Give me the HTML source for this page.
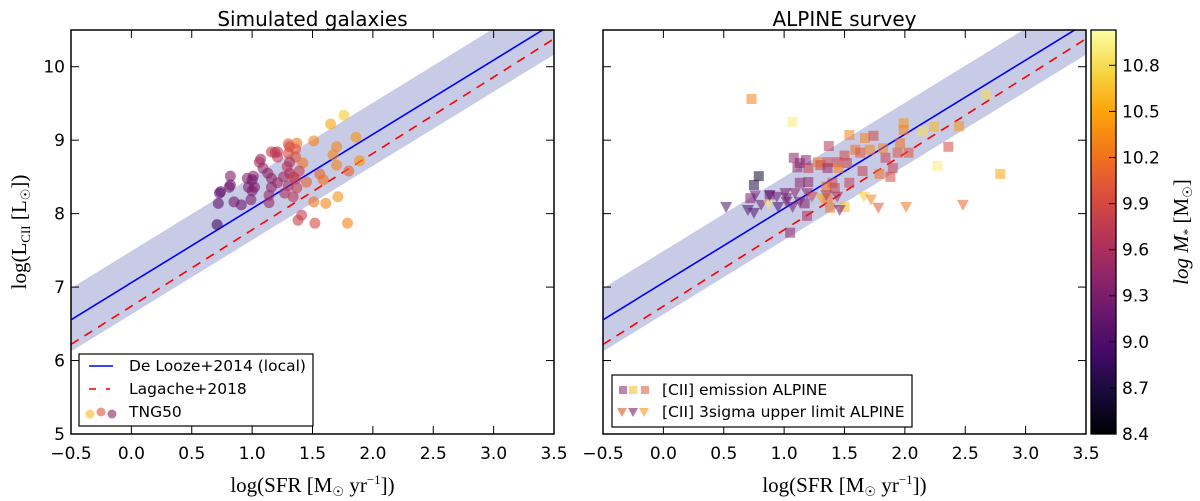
<!DOCTYPE html>
<html><head><meta charset="utf-8"><style>
html,body{margin:0;padding:0;background:#fff;}
svg{display:block;font-family:"DejaVu Sans","Liberation Sans",sans-serif;}
.tick{font-size:17px;fill:#000;}
.math{font-family:"Liberation Serif","DejaVu Serif",serif;font-size:21px;}
</style></head><body>
<svg id="fig" width="1200" height="501" viewBox="0 0 1200 501" xmlns="http://www.w3.org/2000/svg"></svg>
<script>
// ---- data ----
const xTicks = [-0.5,0.0,0.5,1.0,1.5,2.0,2.5,3.0,3.5];
const yTicks = [5,6,7,8,9,10];
const cbTicks = [8.4,8.7,9.0,9.3,9.6,9.9,10.2,10.5,10.8];
const deLooze = {slope:1.01, intercept:7.06, scatter:0.43};
const lagache = {slope:1.04, intercept:6.74};
const tngSfr = [1.76,1.65,1.86,1.51,1.70,1.30,1.37,1.31,1.36,1.16,1.21,1.19,1.21,1.30,1.36,1.07,1.06,1.67,1.42,1.70,1.89,1.80,1.09,1.29,1.31,1.13,1.31,1.39,0.82,0.96,1.01,1.00,1.16,1.26,1.34,1.36,1.45,1.56,1.59,0.82,0.81,0.74,0.73,0.97,1.02,1.00,1.16,1.21,1.30,1.37,1.27,1.14,1.34,0.72,0.85,0.91,0.99,1.14,1.51,1.61,1.71,1.41,1.38,1.52,1.79,0.71];
const tngL = [9.34,9.22,9.04,8.99,8.91,8.95,8.96,8.91,8.88,8.84,8.84,8.83,8.77,8.82,8.77,8.74,8.70,8.80,8.69,8.66,8.72,8.58,8.62,8.64,8.70,8.55,8.55,8.58,8.51,8.48,8.51,8.46,8.48,8.50,8.50,8.47,8.43,8.54,8.46,8.39,8.36,8.30,8.28,8.36,8.36,8.31,8.36,8.42,8.38,8.35,8.28,8.25,8.23,8.14,8.16,8.12,8.19,8.15,8.16,8.14,8.23,7.98,7.91,7.87,7.87,7.85];
const tngM = [10.7,10.5,10.4,10.3,10.3,10.0,10.2,9.9,10.0,9.8,9.8,9.7,9.7,9.9,10.0,9.5,9.6,10.3,10.2,10.3,10.4,10.1,9.4,9.7,9.6,9.4,9.6,9.8,9.3,9.3,9.4,9.2,9.4,9.5,9.7,9.8,10.1,10.1,10.2,9.2,9.2,9.1,9.1,9.3,9.3,9.3,9.4,9.5,9.6,9.8,9.6,9.5,9.7,9.1,9.2,9.2,9.3,9.5,10.2,10.3,10.4,9.8,9.8,9.9,10.3,8.9];
const alpSqSfr = [0.73,1.07,1.99,1.99,2.15,2.24,2.45,2.67,2.36,2.27,2.79,1.54,1.67,1.74,1.37,1.59,1.71,1.82,1.96,1.94,2.03,1.63,1.50,1.84,1.08,1.18,1.13,1.28,1.36,1.44,1.52,1.30,1.11,1.20,1.36,1.45,1.65,1.90,1.79,1.88,1.54,1.13,1.20,1.40,1.35,1.42,0.79,0.75,0.72,0.88,1.17,1.38,1.50,1.19,1.05,1.36];
const alpSqL = [9.56,9.25,9.23,9.14,9.12,9.18,9.19,9.63,8.91,8.65,8.54,9.07,9.03,9.06,8.92,8.87,8.87,8.89,8.96,8.83,8.83,8.83,8.79,8.76,8.76,8.73,8.69,8.70,8.70,8.70,8.69,8.66,8.63,8.62,8.62,8.62,8.58,8.62,8.54,8.50,8.42,8.42,8.43,8.42,8.37,8.35,8.51,8.39,8.21,8.25,8.14,8.08,8.09,7.97,7.74,8.21];
const alpSqM = [10.3,10.9,10.4,10.3,10.8,10.6,10.4,10.8,9.9,10.9,10.5,10.3,10.3,9.9,9.7,10.2,10.3,10.3,10.2,10.0,10.0,10.0,9.9,9.8,9.4,9.4,9.3,10.3,9.9,9.8,9.8,9.9,9.4,9.8,9.5,10.3,9.8,9.8,10.2,9.9,9.8,9.4,9.4,9.9,10.2,9.8,8.6,8.7,9.3,9.2,9.3,10.2,10.6,9.6,9.4,10.2];
const alpTrSfr = [0.52,0.70,0.75,0.76,0.81,0.87,0.88,0.94,0.95,1.01,1.02,1.07,1.09,1.13,1.19,1.23,1.31,1.35,1.44,1.46,1.66,1.72,1.78,2.01,2.48,1.02];
const alpTrL = [8.09,8.05,8.01,8.25,8.12,8.13,8.25,8.23,8.09,8.28,8.21,8.09,8.28,8.16,8.28,8.23,8.21,8.25,8.23,8.05,8.23,8.19,8.08,8.09,8.12,8.16];
const alpTrM = [9.0,9.0,9.0,9.1,9.2,10.9,9.1,9.2,9.0,9.2,9.3,9.2,9.4,9.3,9.4,9.8,10.5,9.7,9.5,9.2,10.7,10.3,10.0,10.2,10.1,9.2];

// ---- helpers ----
const NS='http://www.w3.org/2000/svg';
const svg=document.getElementById('fig');
function mk(tag,attrs,parent,text){const e=document.createElementNS(NS,tag);for(const k in attrs)e.setAttribute(k,attrs[k]);if(text!==undefined)e.textContent=text;(parent||svg).appendChild(e);return e;}
const X0=-0.5,X1=3.5,Y0=5,Y1=10.5,TOP=30,BOT=434,W=483;
const CMIN=8.4,CMAX=11.03;
const stops=[[0,[0,0,4]],[0.1,[22,11,57]],[0.2,[66,10,104]],[0.3,[106,23,110]],[0.4,[147,38,103]],[0.5,[188,55,84]],[0.6,[221,81,58]],[0.7,[243,120,25]],[0.8,[252,165,10]],[0.9,[246,215,70]],[1,[252,255,164]]];
function cmap(v){let t=Math.max(0,Math.min(1,(v-CMIN)/(CMAX-CMIN)));for(let i=1;i<stops.length;i++){if(t<=stops[i][0]){const a=stops[i-1],b=stops[i],f=(t-a[0])/(b[0]-a[0]);const c=a[1].map((x,j)=>Math.round(x+(b[1][j]-x)*f));return `rgb(${c[0]},${c[1]},${c[2]})`;}}return 'rgb(252,255,164)';}
function yS(v){return BOT-(v-Y0)/(Y1-Y0)*(BOT-TOP);}

function panel(L,name,title){
  const xS=v=>L+(v-X0)/(X1-X0)*W;
  const g=mk('g',{});
  
  
  const cid='clip-'+name;
  const cp=mk('clipPath',{id:cid},g);mk('rect',{x:L,y:TOP,width:W,height:BOT-TOP},cp);
  const plot=mk('g',{'clip-path':`url(#${cid})`},g);
  const pts=[[xS(X0),yS(deLooze.slope*X0+deLooze.intercept+deLooze.scatter)],[xS(X1),yS(deLooze.slope*X1+deLooze.intercept+deLooze.scatter)],[xS(X1),yS(deLooze.slope*X1+deLooze.intercept-deLooze.scatter)],[xS(X0),yS(deLooze.slope*X0+deLooze.intercept-deLooze.scatter)]];
  const band=mk('polygon',{points:pts.map(p=>p.join(',')).join(' '),fill:'#c8cbe6'},plot);
  
  
  const l1=mk('line',{x1:xS(X0),y1:yS(deLooze.slope*X0+deLooze.intercept),x2:xS(X1),y2:yS(deLooze.slope*X1+deLooze.intercept),stroke:'#0000ff','stroke-width':1.6},plot);
  
  
  const l2=mk('line',{x1:xS(X0),y1:yS(lagache.slope*X0+lagache.intercept),x2:xS(X1),y2:yS(lagache.slope*X1+lagache.intercept),stroke:'#ff0000','stroke-width':1.6,'stroke-dasharray':'9,7'},plot);
  
  
  mk('rect',{x:L,y:TOP,width:W,height:BOT-TOP,fill:'none',stroke:'#000','stroke-width':1.5},g);
  xTicks.forEach(t=>{const x=xS(t);mk('line',{x1:x,y1:BOT,x2:x,y2:BOT-8,stroke:'#000'},g);mk('line',{x1:x,y1:TOP,x2:x,y2:TOP+8,stroke:'#000'},g);
    const tl=mk('text',{x:x,y:BOT+25,'text-anchor':'middle',class:'tick'},g,t.toFixed(1).replace('-','\u2212'));
    
    });
  yTicks.forEach(t=>{const y=yS(t);mk('line',{x1:L,y1:y,x2:L+8,y2:y,stroke:'#000'},g);mk('line',{x1:L+W,y1:y,x2:L+W-8,y2:y,stroke:'#000'},g);
    if(L<300){const tl=mk('text',{x:L-6,y:y+6,'text-anchor':'end',class:'tick'},g,String(t));
    
    }});
  const tt=mk('text',{x:L+W/2,y:26,'text-anchor':'middle','font-size':'20px'},g,title);
  
  
  const xl=mk('text',{x:L+W/2,y:492,'text-anchor':'middle',class:'math'},g);
  xl.innerHTML='log(SFR [M<tspan font-size="13" dy="4">☉</tspan><tspan dy="-4"> yr</tspan><tspan font-size="13" dy="-8">−1</tspan><tspan dy="8">])</tspan>';
  
  
  return {g,plot,xS};
}

const A=panel(71,'left-panel-simulated','Simulated galaxies');
tngSfr.forEach((s,i)=>{const c=mk('circle',{cx:A.xS(s),cy:yS(tngL[i]),r:5.5,fill:cmap(tngM[i]),'fill-opacity':0.6},A.plot);
  
  });
const B=panel(603,'right-panel-alpine','ALPINE survey');
alpSqSfr.forEach((s,i)=>{const x=B.xS(s),y=yS(alpSqL[i]);const r=mk('rect',{x:x-5,y:y-5,width:10,height:10,fill:cmap(alpSqM[i]),'fill-opacity':0.55},B.plot);
  
  });
alpTrSfr.forEach((s,i)=>{const x=B.xS(s),y=yS(alpTrL[i]);const p=mk('polygon',{points:`${x-6},${y-5} ${x+6},${y-5} ${x},${y+6}`,fill:cmap(alpTrM[i]),'fill-opacity':0.55},B.plot);
  
  });

const yl=mk('text',{transform:'translate(26,232) rotate(-90)','text-anchor':'middle',class:'math'});
yl.innerHTML='log(L<tspan font-size="13" dy="4">CII</tspan><tspan dy="-4"> [L</tspan><tspan font-size="13" dy="4">☉</tspan><tspan dy="-4">])</tspan>';



const lg1=mk('g',{});


mk('rect',{x:79,y:354,width:234,height:72,fill:'#fff',stroke:'#000','stroke-width':1.2},lg1);
mk('line',{x1:89,y1:366,x2:113,y2:366,stroke:'#0000ff','stroke-width':1.6},lg1);
mk('text',{x:129,y:371,'font-size':'15.5px'},lg1,'De Looze+2014 (local)');
mk('line',{x1:89,y1:389,x2:96,y2:389,stroke:'#ff0000','stroke-width':1.6},lg1);
mk('line',{x1:106,y1:389,x2:110,y2:389,stroke:'#ff0000','stroke-width':1.6},lg1);
mk('text',{x:129,y:394,'font-size':'15.5px'},lg1,'Lagache+2018');
[[90,414,10.6],[101,412,10.0],[112,414,9.4]].forEach(p=>mk('circle',{cx:p[0],cy:p[1],r:4.5,fill:cmap(p[2]),'fill-opacity':0.6},lg1));
mk('text',{x:129,y:417,'font-size':'15.5px'},lg1,'TNG50');
const lg2=mk('g',{});


mk('rect',{x:612,y:375,width:300,height:52,fill:'#fff',stroke:'#000','stroke-width':1.2},lg2);
[[623,9.4],[633,10.6],[645,10.0]].forEach(p=>mk('rect',{x:p[0]-4,y:386,width:8,height:8,fill:cmap(p[1]),'fill-opacity':0.55},lg2));
mk('text',{x:662,y:395,'font-size':'15.5px'},lg2,'[CII] emission ALPINE');
[[622,10.0],[633,9.3],[644,10.4]].forEach(p=>mk('polygon',{points:`${p[0]-5},${408} ${p[0]+5},${408} ${p[0]},${417}`,fill:cmap(p[1]),'fill-opacity':0.6},lg2));
mk('text',{x:662,y:417,'font-size':'15.5px'},lg2,'[CII] 3sigma upper limit ALPINE');

const cb=mk('g',{});


const defs=mk('defs',{},cb);
const gr=mk('linearGradient',{id:'inf',x1:0,y1:1,x2:0,y2:0},defs);
stops.forEach(s=>mk('stop',{offset:s[0],'stop-color':`rgb(${s[1].join(',')})`},gr));
mk('rect',{x:1091,y:TOP,width:25,height:BOT-TOP,fill:'url(#inf)',stroke:'#000','stroke-width':1.3},cb);
cbTicks.forEach(t=>{const y=BOT-(t-CMIN)/(CMAX-CMIN)*(BOT-TOP);mk('line',{x1:1109,y1:y,x2:1116,y2:y,stroke:'#000'},cb);
  const tl=mk('text',{x:1122,y:y+6,class:'tick'},cb,t.toFixed(1));
  
  });
const cl=mk('text',{transform:'translate(1188,232) rotate(-90)','text-anchor':'middle',class:'math'},cb);
cl.innerHTML='<tspan font-style="italic">log M</tspan><tspan font-size="13" dy="4">*</tspan><tspan dy="-4"> [M</tspan><tspan font-size="13" dy="4">☉</tspan><tspan dy="-4">]</tspan>';


</script>
</body></html>
